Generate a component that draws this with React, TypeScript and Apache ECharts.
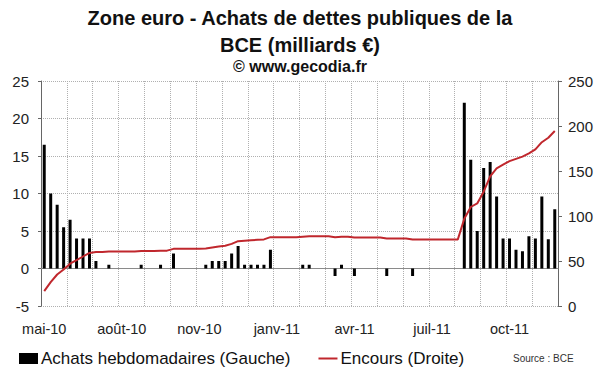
import React, { useEffect, useRef } from 'react';
import * as echarts from 'echarts';

// Tick labels shown under the x axis (one every 12 weeks)
const tickLabels = ['mai-10', 'août-10', 'nov-10', 'janv-11', 'avr-11', 'juil-11', 'oct-11'];

// Weekly categories (80 weeks)
const weeks = Array.from({ length: 80 }, (_, i) => `S${i + 1}`);

// Achats hebdomadaires (Gauche), milliards €
const achats = [
  16.5, 10, 8.5, 5.5, 6.5, 4, 4, 4, 1, 0,
  0.5, 0, 0, 0, 0, 0.5, 0, 0, 0.5, 0,
  2, 0, 0, 0, 0, 0.5, 1, 1, 1, 2,
  3, 0.5, 0.5, 0.5, 0.5, 2.5, 0, 0, 0, 0,
  0.5, 0.5, 0, 0, 0, -1, 0.5, 0, -1, 0,
  0, 0, 0, -1, 0, 0, 0, -1, 0, 0,
  0, 0, 0, 0, 0, 22.1, 14.5, 5, 13.4, 14.2,
  9.6, 4, 4, 2.5, 2.3, 4.3, 4, 9.6, 3.9, 7.9,
];

// Encours (Droite), milliards €
const encours = [
  16.5, 26.5, 35, 40.5, 47, 51, 55, 59, 60, 60,
  60.5, 60.5, 60.5, 60.5, 60.5, 61, 61, 61, 61.5, 61.5,
  63.5, 63.5, 63.5, 63.5, 63.5, 64, 65, 66, 67, 69,
  72, 72.5, 73, 73.5, 74, 76.5, 76.5, 76.5, 76.5, 76.5,
  77, 77.5, 77.5, 77.5, 77.5, 76.5, 77, 77, 76, 76,
  76, 76, 76, 75, 75, 75, 75, 74, 74, 74,
  74, 74, 74, 74, 74, 97, 110, 114, 127, 144,
  153, 157, 161, 163.5, 166, 169.5, 174, 182, 187, 194.5,
];

const FONT = '"Liberation Sans", Arial, sans-serif';

export default function App() {
  const ref = useRef<HTMLDivElement>(null);

  useEffect(() => {
    const chart = echarts.init(ref.current!, null, { renderer: 'svg' });
    chart.setOption({
      animation: false,
      backgroundColor: '#ffffff',
      title: [
        {
          text: 'Zone euro - Achats de dettes publiques de la\nBCE (milliards €)',
          left: 'center',
          top: 4,
          padding: 0,
          textStyle: { fontSize: 20, fontWeight: 'bold', color: '#111', fontFamily: FONT, lineHeight: 27 },
        },
        {
          text: '© www.gecodia.fr',
          left: 'center',
          top: 57,
          padding: 0,
          textStyle: { fontSize: 16, fontWeight: 'bold', color: '#111', fontFamily: FONT, lineHeight: 18 },
        },
        {
          text: 'Source : BCE',
          left: 513,
          top: 353,
          padding: 0,
          textStyle: { fontSize: 10, fontWeight: 'normal', color: '#333', fontFamily: FONT },
        },
      ],
      legend: {
        left: 19,
        top: 350,
        padding: 0,
        itemWidth: 19,
        itemHeight: 11,
        itemGap: 28,
        symbolKeepAspect: true,
        textStyle: { fontSize: 17, color: '#111', fontFamily: FONT, padding: [0, 0, 0, -2] },
        data: [
          { name: 'Achats hebdomadaires (Gauche)', icon: 'rect' },
          { name: 'Encours (Droite)', icon: 'path://M0,0H19V2H0Z' },
        ],
      },
      grid: { left: 41, right: 42, top: 81, height: 225 },
      xAxis: [
        {
          type: 'category',
          data: weeks,
          axisLine: { onZero: true, onZeroAxisIndex: 0, lineStyle: { color: '#8a8a8a', width: 1.2 } },
          axisTick: { interval: 3, length: 4, lineStyle: { color: '#8a8a8a' } },
          axisLabel: { show: false },
          splitLine: { show: true, interval: 3, lineStyle: { type: 'dotted', color: '#b0b0b0', width: 1 } },
        },
        {
          type: 'category',
          data: weeks,
          position: 'bottom',
          axisLine: { show: false, onZero: false },
          axisTick: { show: false },
          splitLine: { show: false },
          axisLabel: {
            interval: 11,
            margin: 15,
            fontSize: 14.5,
            color: '#222',
            fontFamily: FONT,
            formatter: (_v: string, idx: number) => tickLabels[idx / 12] ?? '',
          },
        },
      ],
      yAxis: [
        {
          type: 'value',
          min: -5,
          max: 25,
          interval: 5,
          axisLine: { show: true, lineStyle: { color: '#666' } },
          axisTick: { show: true, length: 3, lineStyle: { color: '#666' } },
          axisLabel: { fontSize: 15, color: '#222', fontFamily: FONT, margin: 12 },
          splitLine: { show: true, lineStyle: { type: 'dotted', color: '#b0b0b0', width: 1 } },
        },
        {
          type: 'value',
          position: 'right',
          min: 0,
          max: 250,
          interval: 50,
          axisLine: { show: true, lineStyle: { color: '#666' } },
          axisTick: { show: true, length: 4, lineStyle: { color: '#666' } },
          axisLabel: { fontSize: 15, color: '#222', fontFamily: FONT, margin: 10 },
          splitLine: { show: false },
        },
      ],
      series: [
        {
          name: 'Achats hebdomadaires (Gauche)',
          type: 'bar',
          xAxisIndex: 0,
          yAxisIndex: 0,
          data: achats,
          barWidth: 3,
          itemStyle: { color: '#000000' },
        },
        {
          name: 'Encours (Droite)',
          type: 'line',
          xAxisIndex: 0,
          yAxisIndex: 1,
          data: encours,
          symbol: 'none',
          lineStyle: { color: '#c0272d', width: 2 },
          itemStyle: { color: '#c0272d' },
          z: 3,
        },
      ],
    });
    return () => chart.dispose();
  }, []);

  return (
    <div
      ref={ref}
      style={{ position: 'absolute', left: 0, top: 0, width: 600, height: 372, background: '#fff' }}
    />
  );
}
